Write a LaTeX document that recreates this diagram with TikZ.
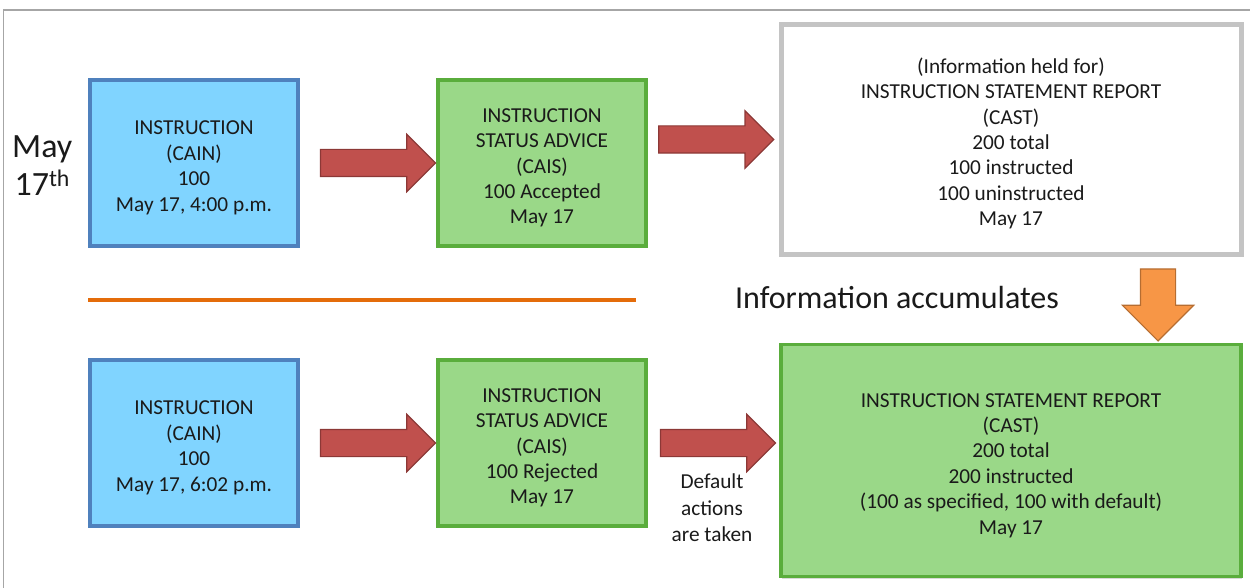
\documentclass[tikz,border=0pt]{standalone}
\usepackage{fontspec}
\setmainfont{Carlito}
\usetikzlibrary{shapes.arrows,shadows,calc}
\definecolor{bluefill}{HTML}{80D4FF}
\definecolor{blueedge}{HTML}{4F81BD}
\definecolor{greenfill}{HTML}{9AD888}
\definecolor{greenedge}{HTML}{5AAD3C}
\definecolor{grayedge}{HTML}{C4C4C4}
\definecolor{redfill}{HTML}{C0504D}
\definecolor{rededge}{HTML}{8C3836}
\definecolor{orfill}{HTML}{F79646}
\definecolor{oredge}{HTML}{B66D31}
\definecolor{orline}{HTML}{E46C0A}
\definecolor{frame}{HTML}{A6A6A6}
\definecolor{txt}{HTML}{1A1A1A}
\newcommand{\btxt}[1]{\raisebox{-5pt}[\height][\depth]{\begin{tabular}{@{}c@{}}#1\end{tabular}}}
\tikzset{
  boxbase/.style={rectangle, align=center, text=txt, inner sep=0pt,
    font=\fontsize{21.3}{25.4}\selectfont,
    drop shadow={opacity=0.3, shadow xshift=1pt, shadow yshift=-2pt}},
  bluebox/.style={boxbase, fill=bluefill, draw=blueedge, line width=3.5pt,
    minimum width=208pt, minimum height=166pt},
  greenbox/.style={boxbase, fill=greenfill, draw=greenedge, line width=3.5pt,
    minimum width=208pt, minimum height=166pt},
  whitebox/.style={boxbase, fill=white, draw=grayedge, line width=5pt,
    minimum width=460pt, minimum height=230pt},
  biggreen/.style={boxbase, fill=greenfill, draw=greenedge, line width=3.5pt,
    minimum width=460pt, minimum height=232pt},
  redarrow/.style={single arrow, fill=redfill, draw=rededge, line width=1.2pt,
    inner sep=13pt, single arrow head extend=15pt, minimum height=115pt,
    anchor=tip},
  orarrow/.style={single arrow, fill=orfill, draw=oredge, line width=1.2pt,
    inner sep=17pt, single arrow head extend=18pt, minimum height=72pt,
    shape border rotate=270, anchor=tip},
  plaintext/.style={align=center, text=txt, inner sep=0pt},
}
\begin{document}
\begin{tikzpicture}[x=1pt,y=-1pt]
\useasboundingbox (0,0) rectangle (1250,588);
\draw[frame, line width=1.5pt] (3.5,600) -- (3.5,10) -- (1260,10);

% top row
\node[bluebox] (b1) at (194,163) {\btxt{INSTRUCTION\\(CAIN)\\100\\May 17, 4:00 p.m.}};
\node[greenbox] (g1) at (542,163) {\btxt{INSTRUCTION\\STATUS ADVICE\\(CAIS)\\100 Accepted\\May 17}};
\node[whitebox] (w1) at (1011,139.5) {\btxt{(Information held for)\\INSTRUCTION STATEMENT REPORT\\(CAST)\\200 total\\100 instructed\\100 uninstructed\\May 17}};

% bottom row
\node[bluebox] (b2) at (194,443) {\btxt{INSTRUCTION\\(CAIN)\\100\\May 17, 6:02 p.m.}};
\node[greenbox] (g2) at (542,443) {\btxt{INSTRUCTION\\STATUS ADVICE\\(CAIS)\\100 Rejected\\May 17}};
\node[biggreen] (g3) at (1011,460.5) {\btxt{INSTRUCTION STATEMENT REPORT\\(CAST)\\200 total\\200 instructed\\(100 as specified, 100 with default)\\May 17}};

% red block arrows
\node[redarrow] (a1) at (g1.west) {};
\node[redarrow] (a2) at ($(w1.west)+(-4,0)$) {};
\node[redarrow] (a3) at (g2.west) {};
\node[redarrow] (a4) at ($(g3.west|-g2.east)+(-3,0)$) {};

% orange down arrow
\node[orarrow] (oa) at ($(g3.north)+(147,-1)$) {};

% separator
\coordinate (l1) at (88,300);
\coordinate (l2) at (636,300);
\draw[orline, line width=4.5pt] (l1) -- (l2);

% labels
\node[plaintext, font=\fontsize{34}{38}\selectfont, anchor=west] (may) at (12,166)
  {May\\17\textsuperscript{th}};
\node[plaintext, font=\fontsize{32}{34}\selectfont] (acc) at (897,298) {Information accumulates};
\node[plaintext, font=\fontsize{21.3}{26.5}\selectfont] (def) at (712,508) {Default\\actions\\are taken};
\end{tikzpicture}
\end{document}
